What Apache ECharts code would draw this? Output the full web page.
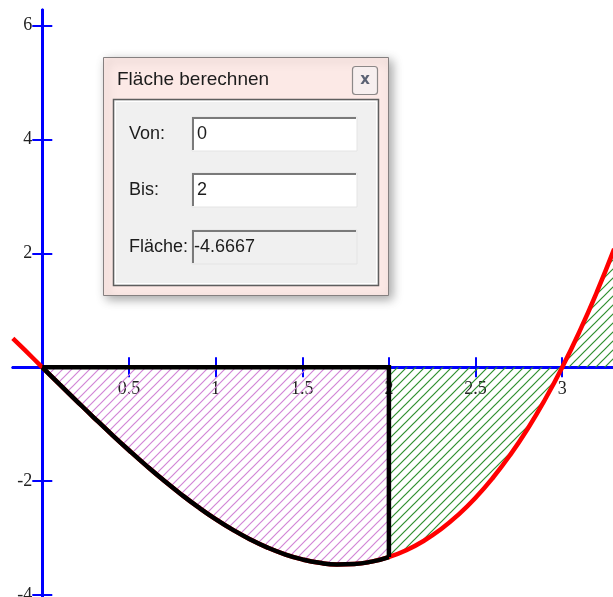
<!DOCTYPE html>
<html>
<head>
<meta charset="utf-8">
<script src="https://cdn.jsdelivr.net/npm/echarts@6/dist/echarts.min.js"></script>
<style>
  html, body { margin: 0; padding: 0; background: #ffffff; }
  #chart { width: 613px; height: 597px; }
</style>
</head>
<body>
<div id="chart"></div>
<script>
// Sampled curve: x positions and the function value at each.
const curveX = [-0.17, -0.1, 0, 0.1, 0.2, 0.3, 0.4, 0.5, 0.6, 0.7, 0.8, 0.9, 1.0,
  1.1, 1.2, 1.3, 1.4, 1.5, 1.6, 1.7, 1.8, 1.9, 2.0, 2.1, 2.2, 2.3, 2.4, 2.5,
  2.6, 2.7, 2.8, 2.9, 3.0, 3.1, 3.2, 3.3];
const curveY = [0.508, 0.300, 0, -0.300, -0.597, -0.891, -1.179, -1.458, -1.728,
  -1.986, -2.229, -2.457, -2.667, -2.856, -3.024, -3.168, -3.285, -3.375, -3.435,
  -3.462, -3.456, -3.414, -3.333, -3.213, -3.051, -2.844, -2.592, -2.292, -1.941,
  -1.539, -1.083, -0.570, 0, 0.630, 1.323, 2.079];

// Axis tick positions and labels
const xTickValues = [0.5, 1, 1.5, 2, 2.5, 3];
const yTickValues = [-4, -2, 2, 4, 6];

// Integration interval and the computed area shown in the dialog
const rangeFrom = 0;
const rangeTo = 2;
const areaText = '-4.6667';
const dialogTitle = 'Fläche berechnen';
const fieldLabels = ['Von:', 'Bis:', 'Fläche:'];
const fieldValues = [String(rangeFrom), String(rangeTo), areaText];

// Visible window of the plot
const X_MIN = -0.169, X_MAX = 3.293;
const Y_MIN = -4.035, Y_MAX = 6.276;

const W = 613, H = 597;
const GRID = { left: 13, right: 0, top: 10, bottom: 0 };
const gridW = W - GRID.left - GRID.right;
const gridH = H - GRID.top - GRID.bottom;
// Pixel positions of the zero lines, used to move the axes onto the origin
const zeroX = GRID.left + (0 - X_MIN) / (X_MAX - X_MIN) * gridW;
const zeroY = GRID.top + (Y_MAX - 0) / (Y_MAX - Y_MIN) * gridH;

const BLUE = '#0000ff';

function hatchPattern(color, width) {
  const size = 9;
  const c = document.createElement('canvas');
  c.width = size; c.height = size;
  const g = c.getContext('2d');
  g.strokeStyle = color;
  g.lineWidth = width;
  g.beginPath();
  g.moveTo(-1, size + 1); g.lineTo(size + 1, -1);
  g.moveTo(-2, 2); g.lineTo(2, -2);
  g.moveTo(size - 2, size + 2); g.lineTo(size + 2, size - 2);
  g.stroke();
  return { image: c, repeat: 'repeat' };
}

const points = curveX.map((x, i) => [x, curveY[i]]);
const inRange = points.filter(p => p[0] >= rangeFrom && p[0] <= rangeTo);
const afterRange = points.filter(p => p[0] >= rangeTo);
const yAtTo = curveY[curveX.indexOf(rangeTo)];
const frame = [[rangeFrom, 0], [rangeTo, 0], [rangeTo, yAtTo]];

function xAxisCfg(pos, withLabels) {
  const offset = pos === 'bottom' ? -(H - GRID.bottom - zeroY) : -(zeroY - GRID.top);
  return {
    type: 'value', position: pos, offset: offset, min: X_MIN, max: X_MAX,
    axisLine: { onZero: false, lineStyle: { color: BLUE, width: 3 } },
    axisTick: { show: true, length: 10, customValues: xTickValues, lineStyle: { color: BLUE, width: 2 } },
    axisLabel: {
      show: withLabels, customValues: xTickValues, margin: 13,
      fontFamily: 'Liberation Serif', fontSize: 18, color: '#222'
    },
    splitLine: { show: false }
  };
}
function yAxisCfg(pos, withLabels) {
  const offset = pos === 'left' ? -(zeroX - GRID.left) : -(W - GRID.right - zeroX);
  return {
    type: 'value', position: pos, offset: offset, min: Y_MIN, max: Y_MAX,
    axisLine: { onZero: false, lineStyle: { color: BLUE, width: 3 } },
    axisTick: { show: true, length: 10, customValues: yTickValues, lineStyle: { color: BLUE, width: 2 } },
    axisLabel: {
      show: withLabels, customValues: yTickValues, margin: 10,
      fontFamily: 'Liberation Serif', fontSize: 18, color: '#222'
    },
    splitLine: { show: false }
  };
}

// Dialog window drawn on top of the plot
const TITLE_FONT = '19px "Liberation Sans", Arial, sans-serif';
const FONT = '18px "Liberation Sans", Arial, sans-serif';
const dialog = [];
dialog.push({
  type: 'rect', shape: { x: 103.5, y: 57.5, width: 285, height: 238 },
  style: { fill: '#fce9e6', stroke: '#858080', lineWidth: 1,
    shadowBlur: 10, shadowColor: 'rgba(0,0,0,0.35)', shadowOffsetX: 3, shadowOffsetY: 3 }
});
dialog.push({
  type: 'text', style: { text: dialogTitle, x: 117, y: 80, verticalAlign: 'middle', font: TITLE_FONT, fill: '#1c1c1c' }
});
dialog.push({
  type: 'rect', shape: { x: 352.5, y: 66.5, width: 25, height: 28, r: 3 },
  style: { fill: '#f7efef', stroke: '#8c8888', lineWidth: 1.2 }
});
dialog.push({
  type: 'text', style: { text: 'x', x: 365, y: 80, align: 'center', verticalAlign: 'middle',
    font: 'bold 15px "DejaVu Sans", sans-serif', fill: '#5b6274' }
});
dialog.push({
  type: 'rect', shape: { x: 113.5, y: 99.5, width: 265, height: 186 },
  style: { fill: '#f0f0f0', stroke: '#5e5e5e', lineWidth: 1.5 }
});
dialog.push({
  type: 'rect', shape: { x: 115.5, y: 101.5, width: 261, height: 182 },
  style: { fill: 'none', stroke: '#ffffff', lineWidth: 1 }
});
const rowTop = [117, 173, 230];
rowTop.forEach((top, i) => {
  const left = 192, w = 165, h = 34;
  dialog.push({
    type: 'rect', shape: { x: left, y: top, width: w, height: h },
    style: { fill: i < 2 ? '#ffffff' : '#f0f0f0', stroke: '#e4e4e4', lineWidth: 1 }
  });
  dialog.push({
    type: 'polyline', shape: { points: [[left + 1, top + h - 1], [left + 1, top + 1], [left + w - 1, top + 1]] },
    style: { stroke: '#7a7a7a', lineWidth: 2, fill: null }
  });
  dialog.push({
    type: 'text', style: { text: fieldLabels[i], x: 129, y: top + 17, verticalAlign: 'middle', font: FONT, fill: '#1c1c1c' }
  });
  dialog.push({
    type: 'text', style: { text: fieldValues[i], x: i < 2 ? 197 : 194, y: top + 17, verticalAlign: 'middle', font: FONT, fill: '#1c1c1c' }
  });
});

const chart = echarts.init(document.getElementById('chart'), null, { renderer: 'canvas' });
chart.setOption({
  animation: false,
  backgroundColor: '#ffffff',
  grid: Object.assign({ containLabel: false, outerBoundsMode: 'none' }, GRID),
  xAxis: [xAxisCfg('bottom', true), xAxisCfg('top', false)],
  yAxis: [yAxisCfg('left', true), yAxisCfg('right', false)],
  series: [
    {
      name: 'Fläche 0–2', type: 'line', data: inRange, smooth: true, showSymbol: false, z: 2,
      lineStyle: { width: 0, opacity: 0 },
      areaStyle: { color: hatchPattern('#d286d6', 1.2), opacity: 1 }
    },
    {
      name: 'Rest', type: 'line', data: afterRange, smooth: true, showSymbol: false, z: 2,
      lineStyle: { width: 0, opacity: 0 },
      areaStyle: { color: hatchPattern('#2f8f2f', 1.2), opacity: 1 }
    },
    {
      name: 'f(x)', type: 'line', data: points, smooth: true, showSymbol: false, z: 3,
      lineStyle: { color: '#ff0000', width: 4.5 }
    },
    {
      name: 'Bogen', type: 'line', data: inRange, smooth: true, showSymbol: false, z: 4,
      lineStyle: { color: '#000000', width: 4.5 }
    },
    {
      name: 'Rand', type: 'line', data: frame, showSymbol: false, z: 4,
      lineStyle: { color: '#000000', width: 4.5, join: 'miter' }
    }
  ],
  graphic: { elements: dialog.map(e => Object.assign({ z: 100 }, e)) }
});
</script>
</body>
</html>
